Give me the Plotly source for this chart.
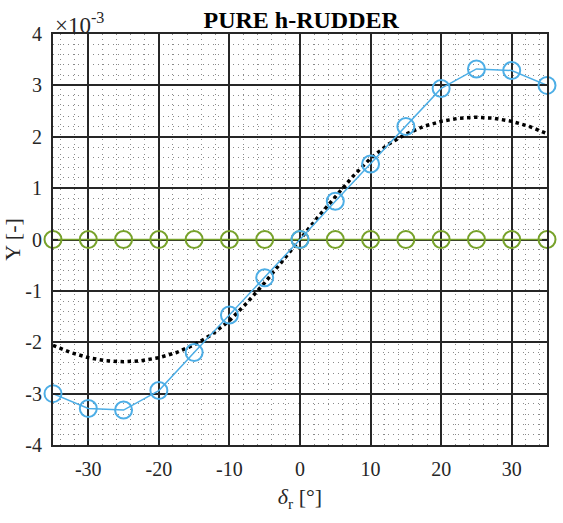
import plotly.graph_objects as go

SCALE = 1e-3
delta_pts = [-35, -30, -25, -20, -15, -10, -5, 0, 5, 10, 15, 20, 25, 30, 35]
y_blue = [-3.0, -3.29, -3.32, -2.94, -2.2, -1.47, -0.745, 0.0, 0.745, 1.47, 2.2, 2.94, 3.32, 3.29, 3.0]
y_olive = [0.0] * 15

delta_fit = [-35, -32.5, -30, -27.5, -25, -22.5, -20, -17.5, -15, -12.5, -10, -7.5, -5, -2.5,
             0, 2.5, 5, 7.5, 10, 12.5, 15, 17.5, 20, 22.5, 25, 27.5, 30, 32.5, 35]
y_fit = [-2.06, -2.2, -2.3, -2.36, -2.38, -2.36, -2.3, -2.2, -2.05, -1.85, -1.58, -1.23, -0.84, -0.43,
         0.0, 0.43, 0.84, 1.23, 1.58, 1.85, 2.05, 2.2, 2.3, 2.36, 2.38, 2.36, 2.3, 2.2, 2.06]

yticks = [-4, -3, -2, -1, 0, 1, 2, 3, 4]
xticks = [-30, -20, -10, 0, 10, 20, 30]

BLUE = "#4DAEE6"
OLIVE = "#77A22A"
FONT = "Liberation Serif"

fig = go.Figure()
fig.add_trace(go.Scatter(x=delta_fit, y=[v * SCALE for v in y_fit], mode="lines",
                         line=dict(color="black", width=3.5, dash="dot"), showlegend=False))
fig.add_trace(go.Scatter(x=delta_pts, y=[v * SCALE for v in y_olive], mode="lines+markers",
                         line=dict(color=OLIVE, width=1.5),
                         marker=dict(symbol="circle-open", size=17, color=OLIVE, line=dict(width=2, color=OLIVE)),
                         showlegend=False, cliponaxis=False))
fig.add_trace(go.Scatter(x=delta_pts, y=[v * SCALE for v in y_blue], mode="lines+markers",
                         line=dict(color=BLUE, width=1.5),
                         marker=dict(symbol="circle-open", size=17, color=BLUE, line=dict(width=2, color=BLUE)),
                         showlegend=False, cliponaxis=False))

axis_common = dict(
    showline=True, linecolor="#262626", linewidth=2, mirror="ticks",
    ticks="inside", ticklen=5, tickwidth=1.5, tickcolor="#262626",
    showgrid=True, gridcolor="#262626", gridwidth=1.5,
    zeroline=False, automargin=False,
    tickfont=dict(family=FONT, size=20, color="#262626"),
)

minor_style = dict(showgrid=True, gridcolor="#8a8a8a", griddash="1px,4px", gridwidth=1, tick0=0)

fig.update_xaxes(range=[-35, 35], tickvals=xticks, ticktext=[str(t) for t in xticks],
                 minor=dict(dtick=2, **minor_style), ticklabelstandoff=5,
                 title=dict(text="<i>δ</i><sub>r</sub> [°]", font=dict(family=FONT, size=22, color="#262626"), standoff=10),
                 **axis_common)
fig.update_yaxes(range=[-4 * SCALE, 4 * SCALE], tickvals=[t * SCALE for t in yticks],
                 ticktext=[str(t) for t in yticks],
                 minor=dict(dtick=0.2 * SCALE, **minor_style), ticklabelstandoff=5,
                 title=dict(text="Y [-]", font=dict(family=FONT, size=22, color="#262626"), standoff=8),
                 **axis_common)

fig.update_layout(
    width=563, height=523,
    margin=dict(l=53, r=16, t=34, b=78),
    plot_bgcolor="white", paper_bgcolor="white",
    title=dict(text="<b>PURE h-RUDDER</b>", x=0.535, xanchor="center",
               yref="container", y=1 - 20 / 523, yanchor="middle",
               font=dict(family=FONT, size=24, color="black")),
    annotations=[dict(text="×10<sup>-3</sup>", x=0, y=1, xref="paper", yref="paper",
                      xanchor="left", yanchor="bottom", showarrow=False, yshift=-6,
                      font=dict(family=FONT, size=23, color="#262626"))],
)

fig.write_html("out.html")
